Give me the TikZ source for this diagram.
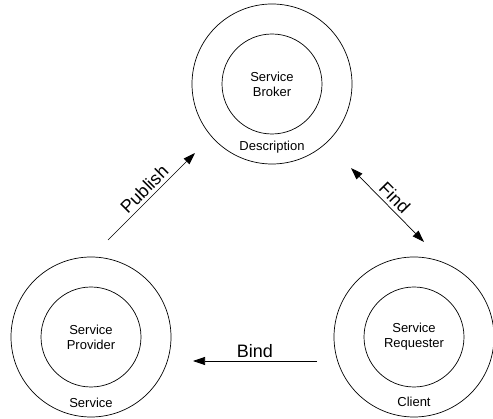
\documentclass[tikz,border=0pt]{standalone}
\usepackage{fontspec}
\setmainfont{Liberation Sans}
\usetikzlibrary{arrows.meta,calc}

\begin{document}
\begin{tikzpicture}
[x=1pt,y=-1pt,line width=0.7pt,>={Triangle[length=12pt,width=8pt]},
 outer/.style={draw,circle,minimum size=160pt,inner sep=0pt},
 inner/.style={draw,circle,minimum size=100pt,inner sep=0pt,align=center,font=\fontsize{13}{15}\selectfont},
 role/.style={font=\fontsize{13}{15}\selectfont},
 verb/.style={font=\fontsize{18}{20}\selectfont},]

\useasboundingbox (0,0) rectangle (493,419);

%Broker, provider and requester
\node (BrO) at (272,84)[outer] {};
\node (BrI) at (BrO)[inner] {Service\\Broker};
\node (BrL) at ($(BrO)+(0,63)$)[role] {Description};

\node (PrO) at (91,337)[outer] {};
\node (PrI) at (PrO)[inner] {Service\\Provider};
\node (PrL) at ($(PrO)+(0,66)$)[role] {Service};

\node (ReO) at (414,337)[outer] {};
\node (ReI) at (ReO)[inner] {Service\\Requester};
\node (ReL) at ($(ReO)+(0,65)$)[role] {Client};

%Arrow ends
\coordinate (Pub1) at (108,240); \coordinate (Pub2) at (195,153);
\coordinate (Fnd1) at (351,168); \coordinate (Fnd2) at (424,242);
\coordinate (Bnd1) at (317,361); \coordinate (Bnd2) at (193,361);

\draw[->] (Pub1) -- node[verb,sloped,above] {Publish} (Pub2);
\draw[<->] (Fnd1) -- node[verb,sloped,above] {Find} (Fnd2);
\draw[->] (Bnd1) -- node[verb,above] {Bind} (Bnd2);

\end{tikzpicture}
\end{document}
